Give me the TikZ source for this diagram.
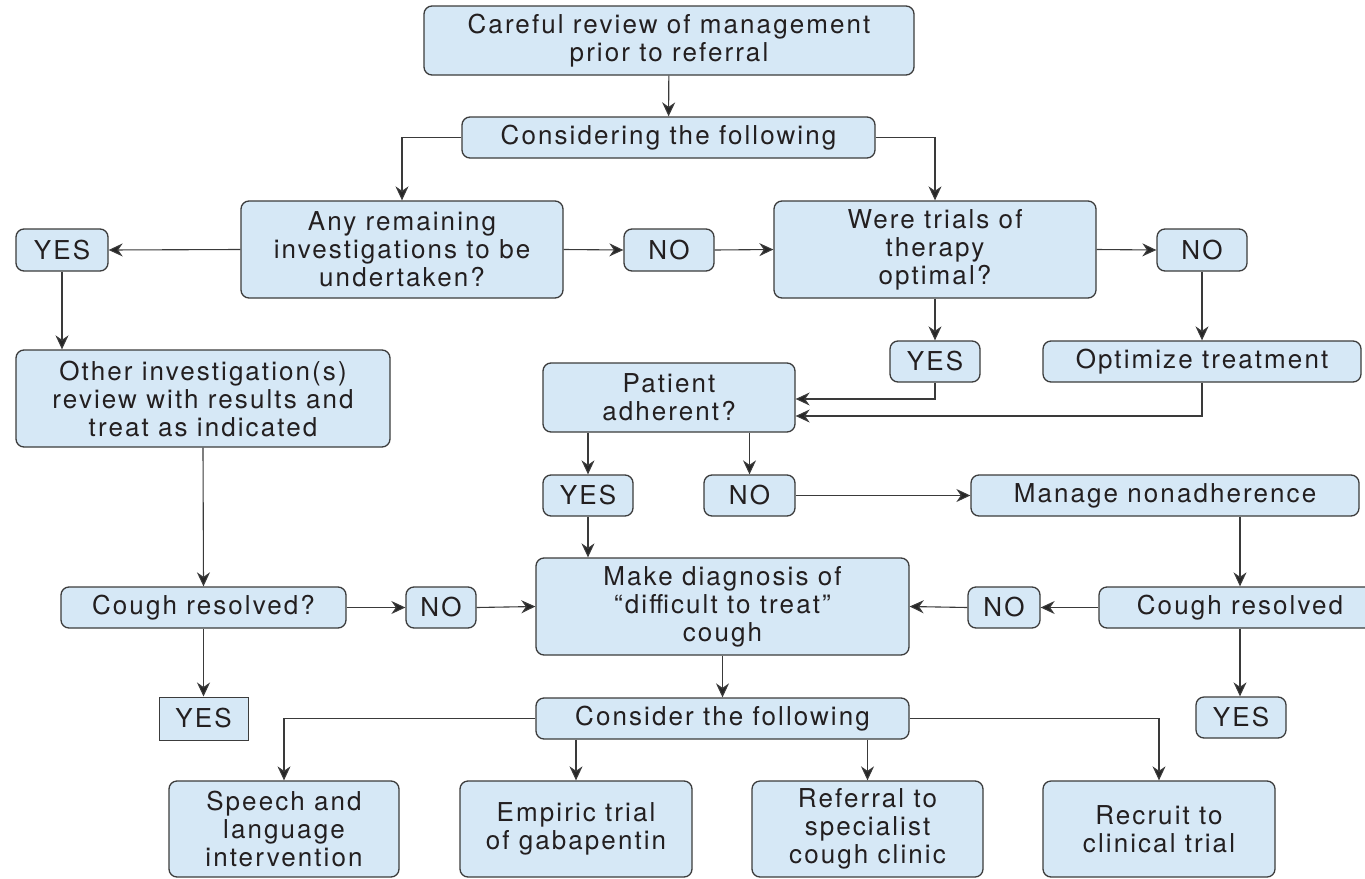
\documentclass[tikz,border=0pt]{standalone}
\usepackage{fontspec}
\setmainfont{TeX Gyre Heros}[LetterSpace=8]
\usetikzlibrary{arrows.meta,calc}
\definecolor{boxfill}{HTML}{D6E8F6}
\definecolor{boxdraw}{HTML}{3C3C3C}
\definecolor{linec}{HTML}{3A3A3A}
\definecolor{txt}{HTML}{231F20}
\begin{document}
\begin{tikzpicture}[x=1pt,y=-1pt,
  box/.style={draw=boxdraw, fill=boxfill, line width=1.3pt, rounded corners=8pt,
    inner sep=0pt, align=center, text=txt,
    font=\fontsize{26}{28}\selectfont},
  sqbox/.style={box, rounded corners=0pt},
  conn/.style={draw=linec, line width=1.1pt},
  arr/.style={conn, -{Stealth[length=14pt,width=13pt,inset=4.5pt,fill=black!85]}}
]
\useasboundingbox (0,0) rectangle (1365,878);
\fill[white] (0,0) rectangle (1365,878);

\node[box, minimum width=490, minimum height=69] (top) at (669,40.5) {Careful review of management\\prior to referral};
\node[box, minimum width=413, minimum height=41] (cons1) at (668.5,137.5) {Considering the following};
\node[box, minimum width=322, minimum height=97] (anyrem) at (402,249.5) {Any remaining\\investigations to be\\undertaken?};
\node[box, minimum width=92, minimum height=42] (yes1) at (62,250) {YES};
\node[box, minimum width=90, minimum height=42] (no1) at (669,250) {NO};
\node[box, minimum width=322, minimum height=97] (trials) at (935,249.5) {Were trials of\\therapy\\optimal?};
\node[box, minimum width=90, minimum height=42] (no2) at (1202,250) {NO};
\node[box, minimum width=374, minimum height=97] (other) at (203,398.5) {Other investigation(s)\\review with results and\\treat as indicated};
\node[box, minimum width=90, minimum height=41] (yes2) at (935,361.5) {YES};
\node[box, minimum width=318, minimum height=41] (optim) at (1202,361.5) {Optimize treatment};
\node[box, minimum width=252, minimum height=69] (patient) at (669,397.5) {Patient\\adherent?};
\node[box, minimum width=90, minimum height=41] (yes3) at (588,495.5) {YES};
\node[box, minimum width=91, minimum height=41] (no3) at (749.5,495.5) {NO};
\node[box, minimum width=388, minimum height=41] (manage) at (1165,495.5) {Manage nonadherence};
\node[box, minimum width=373, minimum height=97] (diag) at (722.5,606.5) {Make diagnosis of\\“difficult to treat”\\cough};
\node[box, minimum width=285, minimum height=41] (coughq) at (203.5,607.5) {Cough resolved?};
\node[box, minimum width=70, minimum height=41] (no4) at (441,607.5) {NO};
\node[box, minimum width=72, minimum height=41] (no5) at (1004,607.5) {NO};
\node[box, minimum width=282, minimum height=41] (coughr) at (1240,607.5) {Cough resolved};
\node[sqbox, line width=1pt, minimum width=89, minimum height=43] (yes4) at (203.5,718.5) {YES};
\node[box, minimum width=90, minimum height=41] (yes5) at (1241,717.5) {YES};
\node[box, minimum width=373, minimum height=41] (cons2) at (722.5,718.5) {Consider the following};
\node[box, minimum width=230, minimum height=96] (speech) at (284,829) {Speech and\\language\\intervention};
\node[box, minimum width=232, minimum height=96] (empiric) at (576,829) {Empiric trial\\of gabapentin};
\node[box, minimum width=231, minimum height=96] (referral) at (867.5,829) {Referral to\\specialist\\cough clinic};
\node[box, minimum width=232, minimum height=96] (recruit) at (1159,829) {Recruit to\\clinical trial};

\coordinate (pa1) at (0,399);
\coordinate (pa2) at (0,416);

\draw[arr] (top) -- (cons1);
\draw[arr] (cons1.west) -| (anyrem.north);
\draw[arr] (cons1.east) -| (trials.north);
\draw[arr] (anyrem.west) -- (yes1.east);
\draw[arr] (anyrem.east) -- (no1.west);
\draw[arr] (no1.east) -- (trials.west);
\draw[arr] (trials.east) -- (no2.west);
\draw[arr] (yes1.south) -- (yes1.south |- other.north);
\draw[arr] (trials.south) -- (yes2.north);
\draw[arr] (no2.south) -- (optim.north);
\draw[arr] (yes2.south) |- (patient.east |- pa1);
\draw[arr] (optim.south) |- (patient.east |- pa2);
\draw[arr] (yes3.north |- patient.south) -- (yes3.north);
\draw[arr] (no3.north |- patient.south) -- (no3.north);
\draw[arr] (no3.east) -- (manage.west);
\draw[arr] (yes3.south) -- (yes3.south |- diag.north);
\draw[arr] (coughr.north |- manage.south) -- (coughr.north);
\draw[arr] (coughr.west) -- (no5.east);
\draw[arr] (no5.west) -- (diag.east);
\draw[arr] (other.south) -- (coughq.north);
\draw[arr] (coughq.east) -- (no4.west);
\draw[arr] (no4.east) -- (diag.west);
\draw[arr] (coughq.south) -- (yes4.north);
\draw[arr] (coughr.south) -- (coughr.south |- yes5.north);
\draw[arr] (diag.south) -- (cons2.north);
\draw[arr] (cons2.west) -| (speech.north);
\draw[arr] (empiric.north |- cons2.south) -- (empiric.north);
\draw[arr] (referral.north |- cons2.south) -- (referral.north);
\draw[arr] (cons2.east) -| (recruit.north);
\end{tikzpicture}
\end{document}
